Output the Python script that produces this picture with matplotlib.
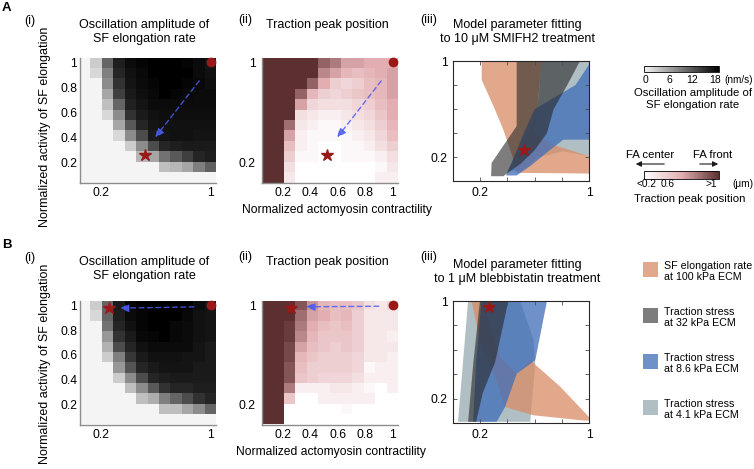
import numpy as np
import matplotlib
matplotlib.use("Agg")
import matplotlib.pyplot as plt
from matplotlib.colors import LinearSegmentedColormap, Normalize
from matplotlib.patches import Polygon, Rectangle, FancyArrowPatch
from matplotlib.cm import ScalarMappable

plt.rcParams['font.family'] = ['Liberation Sans', 'DejaVu Sans']
plt.rcParams['font.size'] = 8.7

W, H = 754, 469

# parameter grid (normalized)
contractility = [0.083, 0.167, 0.25, 0.333, 0.417, 0.5, 0.583, 0.667, 0.75, 0.833, 0.917, 1.0]
sf_activity = [1.0, 0.917, 0.833, 0.75, 0.667, 0.583, 0.5, 0.417, 0.333, 0.25, 0.167, 0.083]

# oscillation amplitude of SF elongation rate (nm/s), rows = sf_activity
amp_A = [
    [0, 3.0, 10.5, 15.8, 17.1, 17.6, 18, 18, 18, 17.6, 17.1, 16.5],
    [0, 2.1, 8.6, 15.2, 16.7, 17.3, 18, 18, 18, 18, 17.1, 16.7],
    [0, 0, 7.7, 14.3, 16.5, 17.1, 17.6, 18, 18, 17.6, 17.3, 16.9],
    [0, 0, 5.8, 13.3, 16.1, 16.9, 17.4, 18, 17.6, 17.4, 17.1, 17.1],
    [0, 0, 3.9, 10.5, 15.6, 16.5, 17.1, 17.1, 17.1, 17.1, 17.1, 17.1],
    [0, 0, 2.1, 7.7, 14.3, 16.1, 16.7, 16.9, 16.9, 16.9, 16.9, 16.9],
    [0, 0, 0, 5.8, 11.4, 15.2, 16.5, 16.7, 16.7, 16.7, 16.7, 16.7],
    [0, 0, 0, 2.1, 7.7, 12.4, 16.1, 16.5, 16.7, 16.7, 16.5, 16.5],
    [0, 0, 0, 0, 3.0, 7.7, 12.4, 15.2, 15.8, 16.1, 16.1, 16.1],
    [0, 0, 0, 0, 0, 4.5, 5.8, 9.6, 11.4, 13.3, 15.2, 15.8],
    [0, 0, 0, 0, 0, 0, 0, 3.9, 4.5, 5.8, 8.6, 10.9],
    [0, 0, 0, 0, 0, 0, 0, 0, 0, 0, 0, 0],
]
amp_B = [
    [0, 3.0, 10.5, 16.1, 17.6, 18, 18, 18, 18, 18, 17.1, 16.5],
    [0, 2.1, 10.5, 15.8, 17.1, 17.6, 18, 18, 18, 17.4, 16.7, 16.5],
    [0, 0, 9.6, 15.2, 16.7, 17.6, 18, 18, 17.4, 17.1, 16.7, 16.5],
    [0, 0, 6.8, 14.3, 16.1, 17.4, 17.6, 18, 17.4, 17.1, 16.7, 16.5],
    [0, 0, 4.9, 12.4, 15.2, 16.7, 17.1, 17.1, 17.1, 17.1, 16.5, 16.1],
    [0, 0, 3.0, 8.6, 13.9, 16.1, 16.7, 16.7, 16.7, 16.5, 16.5, 16.1],
    [0, 0, 0, 6.8, 11.8, 15.2, 16.1, 16.5, 16.5, 16.5, 16.1, 16.1],
    [0, 0, 0, 3.0, 7.7, 12.4, 15.2, 15.8, 16.1, 16.1, 16.1, 16.1],
    [0, 0, 0, 0, 3.9, 7.7, 11.4, 14.3, 15.2, 15.2, 15.8, 15.8],
    [0, 0, 0, 0, 0, 3.9, 5.2, 8.6, 10.5, 12.4, 14.3, 15.2],
    [0, 0, 0, 0, 0, 0, 0, 3.9, 3.9, 5.8, 7.7, 10.5],
    [0, 0, 0, 0, 0, 0, 0, 0, 0, 0, 0, 0],
]

# traction peak position (um)
peak_A = [
    [1, 1, 1, 1, 1, 0.84, 0.76, 0.64, 0.64, 0.6, 0.6, 0.6],
    [1, 1, 1, 1, 1, 0.72, 0.64, 0.56, 0.52, 0.56, 0.6, 0.64],
    [1, 1, 1, 1, 0.84, 0.6, 0.44, 0.4, 0.44, 0.52, 0.56, 0.64],
    [1, 1, 1, 0.84, 0.56, 0.44, 0.4, 0.44, 0.48, 0.52, 0.56, 0.64],
    [1, 1, 1, 0.64, 0.4, 0.36, 0.36, 0.36, 0.4, 0.44, 0.52, 0.6],
    [1, 1, 1, 0.36, 0.32, 0.28, 0.28, 0.32, 0.36, 0.4, 0.48, 0.6],
    [1, 1, 0.8, 0.32, 0.28, 0.24, 0.24, 0.28, 0.32, 0.36, 0.44, 0.56],
    [1, 1, 0.64, 0.28, 0.24, 0.24, 0.24, 0.24, 0.28, 0.32, 0.4, 0.52],
    [1, 1, 0.52, 0.28, 0.24, 0.2, 0.2, 0.24, 0.24, 0.28, 0.36, 0.44],
    [1, 1, 0.44, 0.24, 0.24, 0.2, 0.2, 0.24, 0.24, 0.24, 0.28, 0.36],
    [1, 1, 0.36, 0.2, 0.2, 0.2, 0.2, 0.2, 0.2, 0.2, 0.24, 0.32],
    [1, 1, 0.32, 0.2, 0.2, 0.2, 0.2, 0.2, 0.2, 0.2, 0.28, 0.28],
]
peak_B = [
    [1, 1, 1, 0.88, 0.68, 0.56, 0.52, 0.52, 0.48, 0.36, 0.32, 0.4],
    [1, 1, 1, 0.8, 0.64, 0.6, 0.52, 0.56, 0.44, 0.32, 0.32, 0.32],
    [1, 1, 0.96, 0.76, 0.6, 0.52, 0.48, 0.52, 0.44, 0.32, 0.32, 0.32],
    [1, 1, 0.96, 0.72, 0.56, 0.48, 0.48, 0.48, 0.44, 0.32, 0.32, 0.28],
    [1, 1, 0.92, 0.64, 0.52, 0.48, 0.44, 0.48, 0.44, 0.32, 0.32, 0.32],
    [1, 1, 0.92, 0.56, 0.48, 0.44, 0.44, 0.44, 0.4, 0.32, 0.32, 0.28],
    [1, 1, 0.88, 0.52, 0.44, 0.44, 0.44, 0.44, 0.4, 0.24, 0.28, 0.28],
    [1, 1, 0.88, 0.48, 0.44, 0.4, 0.4, 0.4, 0.36, 0.28, 0.28, 0.28],
    [1, 1, 0.76, 0.28, 0.28, 0.28, 0.32, 0.32, 0.28, 0.24, 0.2, 0.28],
    [1, 1, 0.48, 0.2, 0.2, 0.28, 0.28, 0.28, 0.28, 0.28, 0.2, 0.2],
    [1, 1, 0.2, 0.2, 0.2, 0.2, 0.2, 0.24, 0.2, 0.2, 0.2, 0.2],
    [1, 1, 0.2, 0.2, 0.2, 0.2, 0.2, 0.2, 0.2, 0.2, 0.2, 0.2],
]

# control point, fitted points and arrows (contractility, activity)
control_pt = (1.0, 1.0)
fit_A = (0.52, 0.26)
fit_B = (0.26, 0.975)
fit_B_iii = (0.264, 0.948)
arrow_A = [(0.93, 0.87), (0.585, 0.385)]
arrow_Bi = [(0.90, 0.988), (0.32, 0.977)]
arrow_Bii = [(0.92, 0.993), (0.35, 0.988)]

# parameter regions fitting the experiments
A_lgray = [(0.65, 1.0), (1.0, 1.0), (1.0, 0.21), (0.81, 0.25), (0.62, 0.2), (0.5, 0.085),
           (0.4, 0.085), (0.5, 0.3), (0.6, 0.5), (0.63, 0.7)]
A_orange = [(0.211, 1.0), (0.652, 1.0), (0.62, 0.62), (0.6, 0.4), (0.75, 0.3), (1.0, 0.21),
            (1.0, 0.066), (0.47, 0.072), (0.44, 0.2), (0.37, 0.43), (0.3, 0.62), (0.211, 0.843)]
A_blue = [(1.0, 0.97), (1.0, 0.347), (0.811, 0.347), (0.7, 0.25), (0.57, 0.13), (0.468, 0.05),
          (0.39, 0.05), (0.47, 0.26), (0.52, 0.4), (0.6, 0.6), (0.9, 0.8)]
A_gray = [(0.468, 1.0), (0.934, 1.0), (0.84, 0.8), (0.74, 0.6), (0.69, 0.4), (0.6, 0.26),
          (0.5, 0.15), (0.37, 0.044), (0.28, 0.044), (0.284, 0.154), (0.468, 0.46)]

B_lgray = [(0.111, 1.0), (0.494, 1.0), (0.593, 0.68), (0.605, 0.488), (0.568, 0.01), (0.037, 0.01)]
B_orange = [(0.136, 1.0), (0.222, 1.0), (0.284, 0.76), (0.346, 0.54), (0.469, 0.405), (0.568, 0.515),
            (0.79, 0.296), (1.0, 0.049), (1.0, 0.02), (0.963, 0.02), (0.593, 0.063), (0.383, 0.131),
            (0.309, 0.378), (0.198, 0.68)]
B_blue = [(0.21, 1.0), (0.691, 1.0), (0.605, 0.515), (0.469, 0.405), (0.383, 0.131), (0.321, 0.01),
          (0.148, 0.01), (0.17, 0.5)]
B_gray = [(0.198, 1.0), (0.407, 1.0), (0.31, 0.5), (0.22, 0.25), (0.17, 0.01), (0.111, 0.01),
          (0.15, 0.5)]

legend_labels = ['SF elongation rate\nat 100 kPa ECM', 'Traction stress\nat 32 kPa ECM',
                 'Traction stress\nat 8.6 kPa ECM', 'Traction stress\nat 4.1 kPa ECM']

c_orange = '#D98B66'
c_gray = '#262626'
c_blue = '#3F6DB8'
c_lgray = '#9DB0B6'
alphas = {'orange': 0.75, 'gray': 0.6, 'blue': 0.75, 'lgray': 0.8}
c_red = '#9A1818'
c_arrow = '#4A5CF0'

amp_cmap = LinearSegmentedColormap.from_list('amp', ['#f4f4f4', '#000000'])
peak_cmap = LinearSegmentedColormap.from_list('peak', ['#ffffff', '#e2aeb2', '#5c2f31'])

fig = plt.figure(figsize=(W / 100, H / 100), dpi=100)


def px_axes(left, top, right, bottom):
    return fig.add_axes([left / W, 1 - bottom / H, (right - left) / W, (bottom - top) / H])


def ftext(x, y, s, **kw):
    kw.setdefault('ha', 'center')
    kw.setdefault('va', 'center')
    fig.text(x / W, 1 - y / H, s, **kw)


def heat(ax, data, cmap, vmin, vmax):
    ax.pcolormesh(contractility, sf_activity, np.array(data), shading='nearest',
                  cmap=cmap, vmin=vmin, vmax=vmax)
    ax.set_xlim(0.05, 1.04)
    ax.set_ylim(0.04, 1.035)
    for s in ['top', 'right']:
        ax.spines[s].set_visible(False)
    for s in ['left', 'bottom']:
        ax.spines[s].set_color('0.55')
        ax.spines[s].set_linewidth(1.0)
    ax.tick_params(length=0)


def marks(ax, fit, arrow):
    ax.plot(*control_pt, 'o', color=c_red, ms=6, clip_on=False, zorder=5)
    ax.plot(*fit, '*', color=c_red, ms=9, mec=c_red, zorder=5)
    ax.annotate('', xy=arrow[1], xytext=arrow[0],
                arrowprops=dict(arrowstyle='-|>,head_length=0.6,head_width=0.28',
                                color=c_arrow, lw=1.0, linestyle=(0, (3.5, 2.5)), alpha=0.85))


def regions(ax, lg, orr, bl, gr, fit):
    for verts, c, a in [(lg, c_lgray, alphas['lgray']), (orr, c_orange, alphas['orange']),
                        (bl, c_blue, alphas['blue']), (gr, c_gray, alphas['gray'])]:
        ax.add_patch(Polygon(verts, closed=True, facecolor=c, alpha=a, edgecolor='none'))
    ax.plot(*fit, '*', color=c_red, ms=9, zorder=5)
    ax.set_xlim(0, 1.0)
    ax.set_ylim(0, 1.0)
    ax.set_xticks([0.2, 0.4, 0.6, 0.8, 1.0])
    ax.set_xticklabels(['0.2', '', '', '', '1'])
    ax.set_yticks([0.2, 0.4, 0.6, 0.8, 1.0])
    ax.set_yticklabels(['0.2', '', '', '', '1'])
    ax.tick_params(direction='in', top=True, right=True, length=3, width=0.6,
                   color='0.3', pad=4)
    for s in ax.spines.values():
        s.set_color('0.15')
        s.set_linewidth(0.8)


for row, (top, bot, amp, peak, fit, ar1, ar2, lg, orr, bl, gr, fit3) in enumerate([
        (58, 183, amp_A, peak_A, fit_A, arrow_A, arrow_A, A_lgray, A_orange, A_blue, A_gray, fit_A),
        (301, 424.5, amp_B, peak_B, fit_B, arrow_Bi, arrow_Bii, B_lgray, B_orange, B_blue, B_gray,
         fit_B_iii)]):
    ax1 = px_axes(80, top, 216, bot)
    heat(ax1, amp, amp_cmap, 0, 18)
    marks(ax1, fit, ar1)
    ax1.set_xticks([0.2, 1.0])
    ax1.set_xticklabels(['0.2', '1'])
    ax1.set_yticks([0.2, 0.4, 0.6, 0.8, 1.0])
    ax1.set_yticklabels(['0.2', '0.4', '0.6', '0.8', '1'])
    ax1.tick_params(axis='y', pad=2)
    ax1.tick_params(axis='x', pad=3)

    ax2 = px_axes(262, top, 398, bot)
    heat(ax2, peak, peak_cmap, 0.2, 1.0)
    marks(ax2, fit, ar2)
    ax2.set_xticks([0.2, 0.4, 0.6, 0.8, 1.0])
    ax2.set_xticklabels(['0.2', '0.4', '0.6', '0.8', '1'])
    ax2.set_yticks([0.2, 1.0])
    ax2.set_yticklabels(['0.2', '1'])
    ax2.tick_params(axis='y', pad=4.5)
    ax2.tick_params(axis='x', pad=3)

    t3 = top + 3 if row == 0 else top
    ax3 = px_axes(453, t3, 589, bot - 1.5)
    regions(ax3, lg, orr, bl, gr, fit3)

# panel letters and titles
ftext(2, 2, 'A', ha='left', va='top', fontsize=9.5, fontweight='bold')
ftext(2, 239, 'B', ha='left', va='top', fontsize=9.5, fontweight='bold')
for dy, ylab in [(0, 127), (237, 364)]:
    ftext(30, 21 + dy, '(i)', fontsize=9)
    ftext(245, 20 + dy, '(ii)', fontsize=9)
    ftext(429, 20 + dy, '(iii)', fontsize=9)
    ftext(144, 32 + dy, 'Oscillation amplitude of\nSF elongation rate', fontsize=9, linespacing=1.2)
    ftext(327, 25 + dy, 'Traction peak position', fontsize=9)
    ftext(45, ylab, 'Normalized activity of SF elongation', rotation=90, fontsize=9)
ftext(517, 32, 'Model parameter fitting\nto 10 \u03bcM SMIFH2 treatment', fontsize=9, linespacing=1.2)
ftext(517, 272, 'Model parameter fitting\nto 1 \u03bcM blebbistatin treatment', fontsize=9, linespacing=1.2)
ftext(241.5, 210, 'Normalized actomyosin contractility', ha='left')
ftext(236.5, 452, 'Normalized actomyosin contractility', ha='left')

# amplitude colorbar
cax1 = px_axes(644, 65.7, 719, 72.5)
cb1 = fig.colorbar(ScalarMappable(Normalize(-0.5, 19), amp_cmap), cax=cax1, orientation='horizontal')
cb1.set_ticks([0, 6, 12, 18])
cb1.ax.tick_params(length=0, labelsize=7.5, pad=2)
cb1.outline.set_linewidth(0.6)
ftext(739, 80, '(nm/s)', fontsize=7.2)
ftext(693, 99, 'Oscillation amplitude of\nSF elongation rate', fontsize=8.2, linespacing=1.15)

# traction peak colorbar
cax2 = px_axes(644, 171, 719, 179)
cb2 = fig.colorbar(ScalarMappable(Normalize(0.2, 1.0), peak_cmap), cax=cax2, orientation='horizontal')
cb2.set_ticks([])
cb2.outline.set_linewidth(0.6)
ftext(646, 183.5, '<0.2', fontsize=7.3)
ftext(668, 183.5, '0.6', fontsize=7.3)
ftext(711, 183.5, '>1', fontsize=7.3)
ftext(743, 183.5, '(\u03bcm)', fontsize=7.3)
ftext(690, 199, 'Traction peak position', fontsize=8.2)
ftext(650, 155, 'FA center', fontsize=8.2)
ftext(713, 155, 'FA front', fontsize=8.2)
for (xa, xb) in [(667, 633), (697, 721)]:
    fig.add_artist(FancyArrowPatch((xa / W, 1 - 164 / H), (xb / W, 1 - 164 / H),
                                   transform=fig.transFigure, arrowstyle='-|>',
                                   mutation_scale=8, lw=0.8, color='0.1'))

# legend for the fitting regions
for i, (lab, c, a) in enumerate(zip(legend_labels, [c_orange, c_gray, c_blue, c_lgray],
                                    [alphas['orange'], alphas['gray'], alphas['blue'], alphas['lgray']])):
    yc = 269.5 + 46 * i
    fig.add_artist(Rectangle((643 / W, 1 - (yc + 7.5) / H), 15 / W, 15 / H,
                             transform=fig.transFigure, facecolor=c, alpha=a, edgecolor='none'))
    ftext(663.5, yc + 2, lab, ha='left', fontsize=7.7, linespacing=1.2)

fig.savefig('out.png', dpi=100)
